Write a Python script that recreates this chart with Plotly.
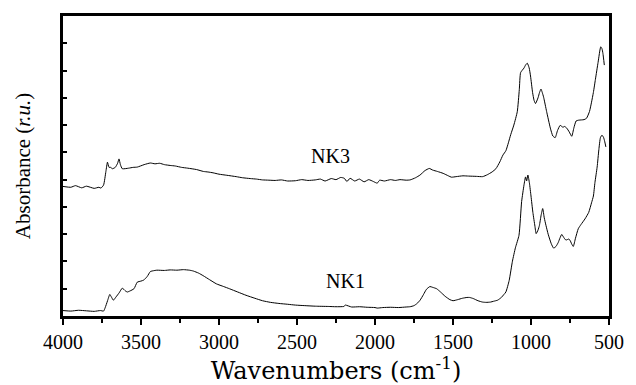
import plotly.graph_objects as go

# NK1 spectrum (lower)
nk1_wn = [4000, 3950, 3900, 3850, 3800, 3760, 3740, 3730, 3715, 3700, 3690, 3677, 3660, 3640, 3620, 3600, 3588, 3570, 3545, 3524, 3500, 3482, 3460, 3440, 3420, 3398, 3350, 3313, 3270, 3228, 3190, 3165, 3130, 3102, 3060, 3017, 2970, 2933, 2880, 2827, 2770, 2721, 2670, 2616, 2560, 2510, 2450, 2383, 2300, 2250, 2200, 2190, 2150, 2100, 2050, 2000, 1986, 1950, 1900, 1850, 1800, 1775, 1750, 1730, 1711, 1690, 1670, 1648, 1630, 1605, 1580, 1550, 1520, 1500, 1470, 1440, 1410, 1394, 1370, 1340, 1310, 1288, 1260, 1240, 1214, 1190, 1175, 1161, 1140, 1119, 1100, 1077, 1060, 1045, 1035, 1028, 1020, 1010, 1000, 988, 975, 967, 955, 946, 935, 925, 915, 904, 890, 870, 855, 840, 825, 815, 803, 790, 780, 771, 760, 750, 740, 729, 715, 697, 680, 654, 630, 612, 600, 590, 576, 565, 555, 545, 535, 528, 520]
nk1_abs = [0.20, 0.18, 0.21, 0.19, 0.17, 0.20, 0.18, 0.30, 0.55, 0.79, 0.70, 0.58, 0.70, 0.85, 1.02, 0.92, 0.88, 0.92, 1.00, 1.24, 1.28, 1.32, 1.45, 1.63, 1.66, 1.68, 1.67, 1.69, 1.68, 1.70, 1.68, 1.65, 1.57, 1.48, 1.33, 1.18, 1.08, 1.00, 0.88, 0.76, 0.65, 0.56, 0.50, 0.46, 0.43, 0.40, 0.38, 0.36, 0.35, 0.34, 0.35, 0.40, 0.33, 0.34, 0.32, 0.31, 0.29, 0.31, 0.32, 0.31, 0.33, 0.34, 0.38, 0.46, 0.58, 0.78, 0.98, 1.08, 1.05, 1.00, 0.88, 0.72, 0.60, 0.56, 0.60, 0.65, 0.68, 0.68, 0.64, 0.56, 0.51, 0.50, 0.51, 0.54, 0.58, 0.68, 0.78, 0.88, 1.30, 2.01, 2.50, 2.96, 4.20, 4.80, 5.10, 4.95, 5.17, 4.87, 4.40, 3.80, 3.30, 3.02, 3.15, 3.32, 3.70, 3.94, 3.60, 3.32, 3.00, 2.65, 2.49, 2.55, 2.70, 2.85, 2.99, 2.88, 2.80, 2.79, 2.82, 2.78, 2.65, 2.55, 2.85, 3.20, 3.35, 3.56, 3.80, 4.15, 4.40, 4.90, 5.46, 6.10, 6.54, 6.63, 6.55, 6.41, 6.20]

# NK3 spectrum (upper)
nk3_wn = [4000, 3950, 3920, 3880, 3850, 3800, 3770, 3757, 3740, 3725, 3715, 3705, 3695, 3683, 3665, 3650, 3641, 3632, 3620, 3580, 3550, 3524, 3480, 3440, 3410, 3380, 3350, 3313, 3280, 3240, 3200, 3144, 3100, 3070, 3038, 3000, 2950, 2890, 2850, 2800, 2760, 2721, 2680, 2640, 2600, 2560, 2510, 2470, 2430, 2383, 2350, 2320, 2280, 2250, 2220, 2197, 2180, 2160, 2130, 2100, 2070, 2040, 2010, 1986, 1970, 1940, 1900, 1870, 1840, 1800, 1775, 1740, 1711, 1680, 1652, 1630, 1600, 1563, 1530, 1510, 1480, 1436, 1400, 1350, 1310, 1280, 1250, 1225, 1200, 1180, 1161, 1145, 1130, 1110, 1088, 1075, 1067, 1055, 1045, 1035, 1024, 1012, 1003, 990, 980, 971, 955, 945, 936, 928, 919, 900, 876, 860, 845, 830, 813, 795, 785, 771, 755, 739, 725, 711, 695, 676, 660, 644, 625, 612, 600, 587, 570, 553, 545, 539, 530]
nk3_abs = [4.75, 4.72, 4.78, 4.70, 4.76, 4.68, 4.72, 4.69, 4.80, 5.30, 5.64, 5.45, 5.45, 5.40, 5.45, 5.60, 5.76, 5.55, 5.40, 5.42, 5.45, 5.46, 5.55, 5.61, 5.58, 5.60, 5.55, 5.52, 5.50, 5.45, 5.42, 5.37, 5.30, 5.28, 5.25, 5.20, 5.16, 5.11, 5.07, 5.04, 5.02, 4.99, 4.98, 4.97, 4.99, 4.95, 4.96, 5.00, 4.97, 4.99, 5.02, 4.95, 5.04, 5.00, 5.08, 5.05, 4.93, 5.05, 4.95, 5.02, 4.92, 5.00, 4.93, 4.87, 4.98, 4.95, 5.00, 4.97, 5.00, 4.98, 4.99, 5.07, 5.17, 5.33, 5.41, 5.35, 5.30, 5.23, 5.14, 5.09, 5.11, 5.14, 5.13, 5.12, 5.11, 5.18, 5.28, 5.40, 5.65, 5.90, 6.06, 6.35, 6.65, 7.00, 7.49, 8.30, 8.92, 9.02, 9.09, 9.20, 9.27, 9.10, 8.80, 8.20, 7.90, 7.79, 8.00, 8.20, 8.32, 8.20, 8.02, 7.50, 6.89, 6.60, 6.54, 6.80, 6.99, 6.92, 6.95, 6.89, 6.75, 6.59, 6.90, 7.15, 7.18, 7.19, 7.20, 7.25, 7.50, 7.84, 8.20, 8.68, 9.30, 9.87, 9.80, 9.63, 9.20]

labels = ["NK1", "NK3"]
label_wn = [2187, 2285]
label_abs = [1.27, 5.86]

x_tick_vals = [4000, 3500, 3000, 2500, 2000, 1500, 1000, 500]

serif = "Liberation Serif"

fig = go.Figure()
fig.add_trace(go.Scatter(x=nk1_wn, y=nk1_abs, mode="lines", name="NK1",
                         line=dict(color="black", width=1.0, shape="spline", smoothing=0.5),
                         showlegend=False))
fig.add_trace(go.Scatter(x=nk3_wn, y=nk3_abs, mode="lines", name="NK3",
                         line=dict(color="black", width=1.0, shape="spline", smoothing=0.5),
                         showlegend=False))

for t, xw, ya in zip(labels, label_wn, label_abs):
    fig.add_annotation(x=xw, y=ya, text=t, showarrow=False,
                       font=dict(family=serif, size=20, color="black"))

fig.update_layout(
    width=636, height=385,
    margin=dict(l=63, r=21, t=16, b=62),
    paper_bgcolor="white", plot_bgcolor="white",
    showlegend=False,
    font=dict(family=serif, color="black"),
)
fig.update_xaxes(
    range=[4000, 500], tickvals=x_tick_vals,
    ticktext=[str(v) for v in x_tick_vals],
    ticks="outside", ticklen=6, tickwidth=2, tickcolor="black",
    minor=dict(dtick=250, tick0=500, ticks="outside", ticklen=4, tickwidth=2, tickcolor="black"),
    showline=True, linewidth=2.5, linecolor="black", mirror=True,
    showgrid=False, zeroline=False,
    tickfont=dict(family=serif, size=20, color="black"),
    title=dict(text="Wavenumbers (cm<sup>-1</sup>)",
               font=dict(family="DejaVu Serif", size=24, color="black"),
               standoff=3),
)
fig.update_yaxes(
    range=[0, 11], dtick=1, tick0=0,
    ticks="inside", ticklen=4, tickwidth=2, tickcolor="black",
    showticklabels=False,
    showline=True, linewidth=2.5, linecolor="black", mirror=True,
    showgrid=False, zeroline=False,
    title=dict(text="Absorbance (<i>r.u.</i>)",
               font=dict(family=serif, size=21, color="black"),
               standoff=24),
)

fig.write_html("out.html")
